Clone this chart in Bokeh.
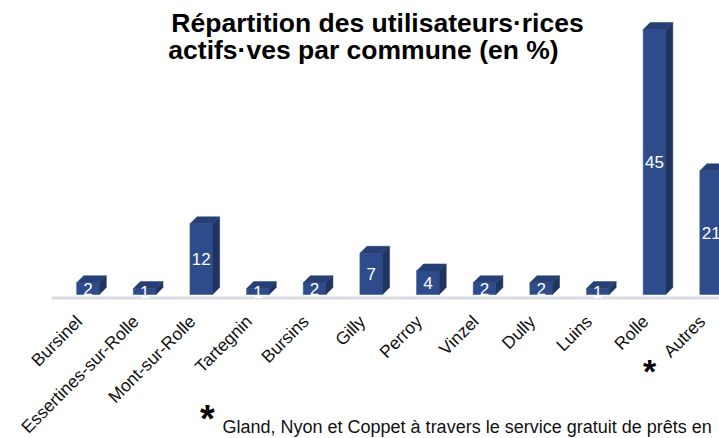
import math
from bokeh.plotting import figure
from bokeh.models import Range1d, Label, ColumnDataSource
from bokeh.core.properties import value
from bokeh.embed import file_html
from bokeh.resources import INLINE

# ---- data ----
communes = ["Bursinel", "Essertines-sur-Rolle", "Mont-sur-Rolle", "Tartegnin", "Bursins",
            "Gilly", "Perroy", "Vinzel", "Dully", "Luins", "Rolle", "Autres"]
pourcentages = [2, 1, 12, 1, 2, 7, 4, 2, 2, 1, 45, 21]
titre = ["Répartition des utilisateurs·rices", "actifs·ves par commune (en %)"]
note = "Gland, Nyon et Coppet à travers le service gratuit de prêts en"

# ---- styling ----
FONT = "Liberation Sans"
FRONT = "#2e4c8c"
SIDE = "#1f3560"
TOP = "#263f74"

W, H = 719, 438
px_x = 56.65          # pixels per category
px_y = 265.0 / 45.0   # pixels per percent
first_px = 87.5       # pixel position (in figure) of the first category
base_px = 294.0       # pixel position (from figure top) of value 0
x_start = -first_px / px_x
y_end = base_px / px_y
y_start = y_end - H / px_y

p = figure(width=W, height=H, output_backend="svg", toolbar_location=None,
           x_range=Range1d(x_start, x_start + W / px_x),
           y_range=Range1d(y_start, y_end),
           min_border=0)
p.outline_line_color = None
p.background_fill_color = "white"
p.border_fill_color = "white"
p.grid.visible = False
p.axis.visible = False

xs = list(range(len(communes)))
hw = 0.2
ddx = 7.0 / px_x
ddy = 7.0 / px_y

src = ColumnDataSource(dict(
    x=xs, v=pourcentages,
    mid=[v / 2 for v in pourcentages],
    lab=[str(v) for v in pourcentages],
    side_x=[[x + hw, x + hw + ddx, x + hw + ddx, x + hw] for x in xs],
    side_y=[[0, ddy, v + ddy, v] for v in pourcentages],
    top_x=[[x - hw, x + hw, x + hw + ddx, x - hw + ddx] for x in xs],
    top_y=[[v, v, v + ddy, v + ddy] for v in pourcentages],
))

# floor (category axis line)
floor_y = -3.5 / px_y
p.segment(x0=[xs[0] - 0.644], y0=[floor_y], x1=[xs[-1] + 1], y1=[floor_y],
          line_color="#d9dce3", line_width=3)

p.vbar(x="x", top="v", bottom=0, width=2 * hw, source=src,
       fill_color=FRONT, line_color="#3d5c9c", line_width=0.6)
p.patches("side_x", "side_y", source=src, fill_color=SIDE, line_color=SIDE, line_width=0.5)
p.patches("top_x", "top_y", source=src, fill_color=TOP, line_color=TOP, line_width=0.5)
p.text(x="x", y="mid", text="lab", source=src, text_color="white",
       text_font=value(FONT), text_font_size="17px",
       text_align="center", text_baseline="middle")

# category (tick) labels, rotated 45 degrees, ending under each bar
cat_src = ColumnDataSource(dict(x=xs, y=[-24.0 / px_y] * len(xs), t=communes))
p.text(x="x", y="y", text="t", source=cat_src, angle=math.pi / 4,
       x_offset=-9, text_align="right", text_baseline="alphabetic",
       text_font=value(FONT), text_font_size="17.5px", text_color="#111111")

# title (frame-relative screen coordinates, y from bottom)
for txt, cx, by in [(titre[0], 377, 416), (titre[1], 363, 389)]:
    p.add_layout(Label(x=cx, y=by, x_units="screen", y_units="screen", text=txt,
                       text_align="center", text_baseline="alphabetic",
                       text_font=FONT, text_font_size="26.5px", text_font_style="bold",
                       text_color="#000000"))

# asterisks and footnote
p.add_layout(Label(x=649, y=68, x_units="screen", y_units="screen", text="*",
                   text_align="center", text_baseline="alphabetic",
                   text_font=FONT, text_font_size="34px", text_font_style="bold",
                   text_color="#000000"))
p.add_layout(Label(x=207, y=20, x_units="screen", y_units="screen", text="*",
                   text_align="center", text_baseline="alphabetic",
                   text_font=FONT, text_font_size="38px", text_font_style="bold",
                   text_color="#000000"))
p.add_layout(Label(x=222, y=12, x_units="screen", y_units="screen", text=note,
                   text_align="left", text_baseline="alphabetic",
                   text_font=FONT, text_font_size="18px",
                   text_color="#111111"))

open("out.html", "w").write(file_html(p, INLINE))
